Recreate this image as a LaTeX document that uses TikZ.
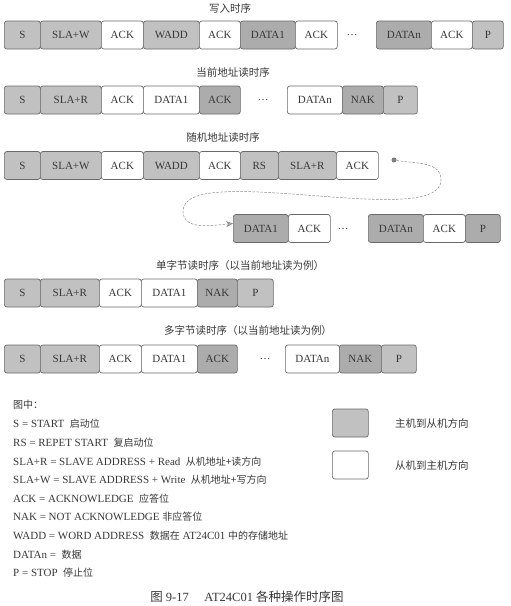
\documentclass[tikz,border=0pt]{standalone}
\usepackage{fontspec}
\setmainfont{Liberation Serif}
\newfontfamily\cjk{Noto Sans CJK SC}
\usetikzlibrary{arrows.meta}
\definecolor{c1}{RGB}{193,193,193}
\definecolor{c2}{RGB}{172,172,172}
\definecolor{bd}{RGB}{105,105,105}
\definecolor{tx}{RGB}{55,55,55}
\newcommand{\zh}[1]{{\cjk\fontsize{10}{12}\selectfont #1}}
\tikzset{
  seg/.style={draw=bd, line width=0.7pt, rounded corners=2.5pt, minimum height=28, inner sep=0pt, anchor=west, text=tx, font=\fontsize{11}{13}\selectfont},
  mst/.style={seg, fill=c1},
  mstd/.style={seg, fill=c2},
  slv/.style={seg, fill=white},
  dts/.style={text=tx, font=\fontsize{11}{13}\selectfont},
  ttl/.style={text=tx, font=\cjk\fontsize{10.5}{12}\selectfont},
  lgd/.style={anchor=west, text=tx, inner sep=0pt, font=\fontsize{11}{13}\selectfont},
  flow/.style={dashed, dash pattern=on 2.5pt off 1.5pt, draw=bd!80, line width=0.5pt, -{Stealth[length=7pt,width=6pt,fill=c2]}}
}

\begin{document}
\begin{tikzpicture}[x=1pt,y=-1pt]
\useasboundingbox (0,0) rectangle (511,606);

%%% Write sequence
\node[ttl] (t1) at (230,8) {写入时序};
\node[mst, minimum width=36] (w1) at (4,35) {S};
\node[mst, minimum width=61] (w2) at (40,35) {SLA+W};
\node[slv, minimum width=42] (w3) at (101,35) {ACK};
\node[mst, minimum width=56] (w4) at (143,35) {WADD};
\node[slv, minimum width=41] (w5) at (199,35) {ACK};
\node[mstd, minimum width=55] (w6) at (240,35) {DATA1};
\node[slv, minimum width=42] (w7) at (295,35) {ACK};
\node[dts] (w8) at (352,35) {\dots};
\node[mstd, minimum width=55] (w9) at (376,35) {DATAn};
\node[slv, minimum width=41] (w10) at (431,35) {ACK};
\node[mst, minimum width=31] (w11) at (472,35) {P};

%%% Current address read
\node[ttl] (t2) at (233,73) {当前地址读时序};
\node[mst, minimum width=36] (c1) at (4,100) {S};
\node[mst, minimum width=61] (c2) at (40,100) {SLA+R};
\node[slv, minimum width=42] (c3) at (101,100) {ACK};
\node[slv, minimum width=56] (c4) at (143,100) {DATA1};
\node[mstd, minimum width=41] (c5) at (199,100) {ACK};
\node[dts] (c6) at (263,100) {\dots};
\node[slv, minimum width=55] (c7) at (287,100) {DATAn};
\node[mstd, minimum width=41] (c8) at (342,100) {NAK};
\node[mst, minimum width=34] (c9) at (383,100) {P};

%%% Random address read
\node[ttl] (t3) at (223,138) {随机地址读时序};
\node[mst, minimum width=36] (r1) at (4,165.5) {S};
\node[mst, minimum width=61] (r2) at (40,165.5) {SLA+W};
\node[slv, minimum width=42] (r3) at (101,165.5) {ACK};
\node[mst, minimum width=56] (r4) at (143,165.5) {WADD};
\node[slv, minimum width=41] (r5) at (199,165.5) {ACK};
\node[mst, minimum width=38] (r6) at (240,165.5) {RS};
\node[mst, minimum width=58] (r7) at (278,165.5) {SLA+R};
\node[slv, minimum width=42] (r8) at (336,165.5) {ACK};
\node[circle, fill=bd!85, inner sep=0pt, minimum size=5] (rdot) at (394,160) {};

\node[mstd, minimum width=55] (r3d1) at (233,228.5) {DATA1};
\node[slv, minimum width=42] (r3d2) at (288,228.5) {ACK};
\node[dts] (r3d3) at (343,228.5) {\dots};
\node[mstd, minimum width=55] (r3d4) at (368,228.5) {DATAn};
\node[slv, minimum width=42] (r3d5) at (423,228.5) {ACK};
\node[mstd, minimum width=35] (r3d6) at (465,228.5) {P};

\coordinate (q1) at (441,180);
\coordinate (q2) at (183,211);
\draw[flow] (rdot) to[out=-10,in=90] (q1) to[out=-90,in=90,looseness=0.5] (q2) to[out=-90,in=185] ([yshift=5pt]r3d1.west);

%%% Single byte read
\node[ttl] (t4) at (240,266) {单字节读时序（以当前地址读为例）};
\node[mst, minimum width=36] (s1) at (4,293) {S};
\node[mst, minimum width=59] (s2) at (40,293) {SLA+R};
\node[slv, minimum width=42] (s3) at (99,293) {ACK};
\node[slv, minimum width=56] (s4) at (141,293) {DATA1};
\node[mstd, minimum width=40] (s5) at (197,293) {NAK};
\node[mst, minimum width=36] (s6) at (237,293) {P};

%%% Multi byte read
\node[ttl] (t5) at (248,331) {多字节读时序（以当前地址读为例）};
\node[mst, minimum width=36] (m1) at (4,359) {S};
\node[mst, minimum width=59] (m2) at (40,359) {SLA+R};
\node[slv, minimum width=42] (m3) at (99,359) {ACK};
\node[slv, minimum width=56] (m4) at (141,359) {DATA1};
\node[mstd, minimum width=40] (m5) at (197,359) {ACK};
\node[dts] (m6) at (265,359) {\dots};
\node[slv, minimum width=54] (m7) at (285,359) {DATAn};
\node[mstd, minimum width=42] (m8) at (339,359) {NAK};
\node[mst, minimum width=35] (m9) at (381,359) {P};

%%% Legend
\node[lgd] (lg0) at (13,405) {\zh{图中：}};
\node[lgd] (lg1) at (13,424) {S = START\ \ \zh{启动位}};
\node[lgd] (lg2) at (13,443) {RS = REPET START\ \ \zh{复启动位}};
\node[lgd] (lg3) at (13,462) {SLA+R = SLAVE ADDRESS + Read\ \ \zh{从机地址+读方向}};
\node[lgd] (lg4) at (13,480) {SLA+W = SLAVE ADDRESS + Write\ \ \zh{从机地址+写方向}};
\node[lgd] (lg5) at (13,499) {ACK = ACKNOWLEDGE\ \ \zh{应答位}};
\node[lgd] (lg6) at (13,517) {NAK = NOT ACKNOWLEDGE \zh{非应答位}};
\node[lgd] (lg7) at (13,536) {WADD = WORD ADDRESS\ \ \zh{数据在} AT24C01 \zh{中的存储地址}};
\node[lgd] (lg8) at (13,555) {DATAn = \ \zh{数据}};
\node[lgd] (lg9) at (13,573) {P = STOP\ \ \zh{停止位}};

\node[mst, minimum width=36] (kM) at (332,423) {};
\node[slv, minimum width=36] (kS) at (332,465) {};
\node[lgd] (kMt) at (395,423) {\cjk\fontsize{10.5}{12}\selectfont 主机到从机方向};
\node[lgd] (kSt) at (395,465) {\cjk\fontsize{10.5}{12}\selectfont 从机到主机方向};

\node[text=tx, font=\fontsize{12.5}{14}\selectfont] (cap) at (247,597) {{\cjk 图} 9-17\quad\ AT24C01 {\cjk 各种操作时序图}};
\end{tikzpicture}
\end{document}
